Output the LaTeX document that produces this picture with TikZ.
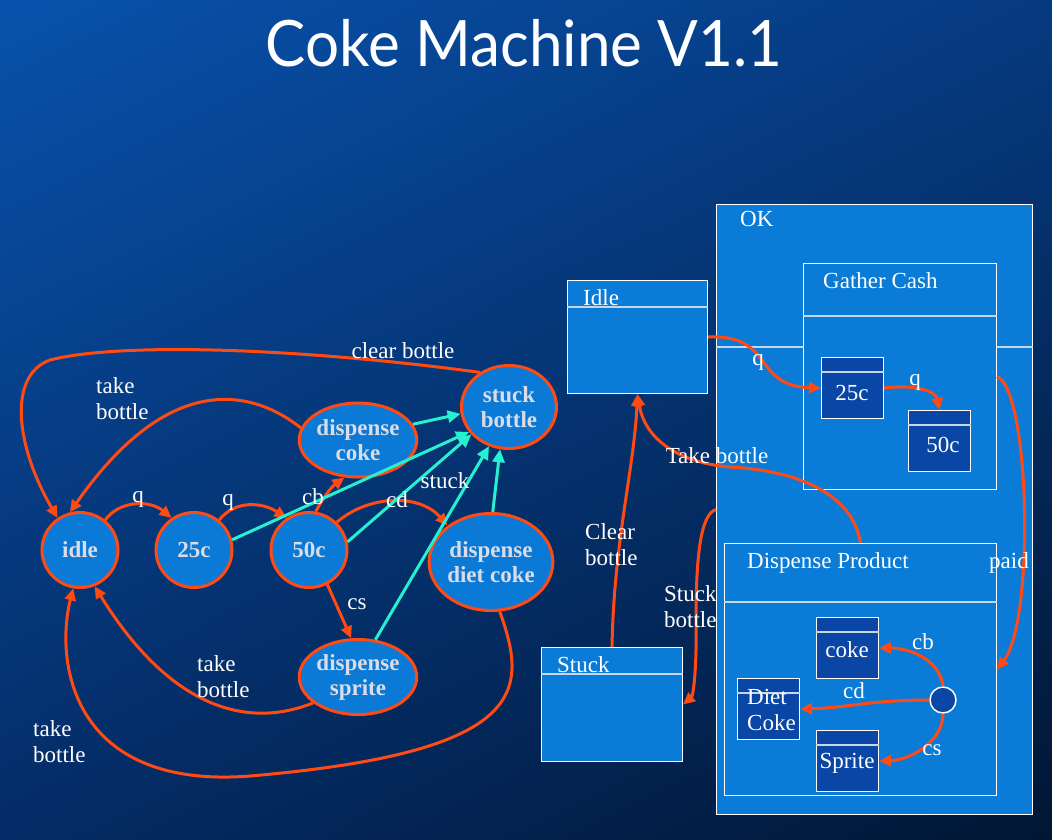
\documentclass[tikz,border=0pt]{standalone}
\usepackage{fontspec}
\setmainfont{Liberation Serif}
\newfontfamily\titlefont{Lato}
\usetikzlibrary{shapes.geometric,arrows.meta,shadings}
\definecolor{org}{HTML}{FF4A14}
\definecolor{cyn}{HTML}{25F0D0}
\definecolor{nodeblue}{HTML}{0A7AD6}
\definecolor{nodetext}{HTML}{DCDCE6}
\definecolor{boxblue}{HTML}{0A7CD8}
\definecolor{darkbox}{HTML}{0A46A6}
\definecolor{hdr}{HTML}{C8D6EA}
\definecolor{bgA}{HTML}{0852AC}
\definecolor{bgB}{HTML}{063A80}
\definecolor{bgC}{HTML}{042C66}
\definecolor{bgD}{HTML}{011634}
\tikzset{
  state/.style={ellipse, draw=org, line width=3pt, fill=nodeblue, text=nodetext,
    font=\fontsize{23}{25}\selectfont\bfseries, align=center, inner sep=0pt},
  oe/.style={draw=org, line width=3pt, -{Triangle[length=12pt,width=11pt]}},
  ce/.style={draw=cyn, line width=3pt, -{Triangle[length=13pt,width=12pt]}},
  lab/.style={text=white, font=\fontsize{23}{26}\selectfont, inner sep=0pt},
  box/.style={draw=white, line width=1pt, fill=boxblue, anchor=north west, inner sep=0pt},
  sub/.style={draw=white, line width=1pt, fill=darkbox, anchor=north west, inner sep=0pt,
    minimum width=62pt, minimum height=61pt},
  hline/.style={draw=hdr, line width=1.2pt}
}
\begin{document}
\begin{tikzpicture}[x=1pt,y=-1pt]
\shade[upper left=bgA, upper right=bgB, lower left=bgC, lower right=bgD] (0,0) rectangle (1052,839);
\useasboundingbox (0,0) rectangle (1052,839);

% title
\node[font=\titlefont\fontsize{64}{70}\selectfont, text=white, anchor=base, inner sep=0pt, xscale=0.94] (title) at (524,66) {Coke Machine V1.1};

% ---------- left state diagram ----------
\node[state, minimum width=76pt, minimum height=75pt] (idle) at (80,550) {idle};
\node[state, minimum width=76pt, minimum height=75pt] (c25) at (194,550) {25c};
\node[state, minimum width=76pt, minimum height=75pt] (c50) at (309,550) {50c};
\node[state, minimum width=107pt, minimum height=74pt] (dcoke) at (358,440) {dispense\\coke};
\node[state, minimum width=95pt, minimum height=83pt] (stuckb) at (509,407) {stuck\\bottle};
\node[state, minimum width=108pt, minimum height=97pt] (ddiet) at (491,562) {dispense\\diet coke};
\node[state, minimum width=107pt, minimum height=75pt] (dsprite) at (358,677) {dispense\\sprite};

% orange transitions
\draw[oe] (idle.50) .. controls (120,500) and (150,500) .. (c25.125);
\draw[oe] (c25.50) .. controls (235,500) and (262,502) .. (c50.125);
\draw[oe] (c50.80) .. controls (322,500) and (330,488) .. (dcoke.-110);
\draw[oe] (c50.45) .. controls (370,494) and (420,494) .. (ddiet.140);
\draw[oe] (c50.-62) -- (dsprite.100);
\draw[oe] (dcoke.168) .. controls (250,388) and (168,372) .. (idle.105);
\draw[oe] (dsprite.-150) .. controls (240,732) and (165,700) .. (idle.-68);
\draw[oe] (ddiet.-80) .. controls (528,690) and (530,752) .. (250,776)
  .. controls (70,790) and (55,660) .. (idle.-100);
\draw[oe] (stuckb.130) .. controls (300,348) and (120,342) .. (50,360)
  .. controls (8,375) and (15,445) .. (idle.125);

% cyan transitions
\draw[ce] (dcoke.16) -- (stuckb.188);
\draw[ce] (c25.15) -- (stuckb.212);
\draw[ce] (c50.12) -- (stuckb.216);
\draw[ce] (dsprite.65) -- (stuckb.243);
\draw[ce] (ddiet.88) -- (stuckb.258);

% labels left
\node[lab, anchor=base] (lq1) at (138,502) {q};
\node[lab, anchor=base] (lq2) at (228,505) {q};
\node[lab, anchor=base] (lcb) at (313,504) {cb};
\node[lab, anchor=base] (lcd) at (397,507) {cd};
\node[lab, anchor=base] (lstuck) at (445,488) {stuck};
\node[lab, anchor=base] (lcs) at (357,609) {cs};
\node[lab, anchor=base] (lclear) at (403,358) {clear bottle};
\node[lab, anchor=base west, align=left] (ltb1) at (96,419) {take\\bottle};
\node[lab, anchor=base west, align=left] (ltb2) at (197,697) {take\\bottle};
\node[lab, anchor=base west, align=left] (ltb3) at (33,762) {take\\bottle};

% ---------- right statechart ----------
\node[box, minimum width=316pt, minimum height=610pt] (okbox) at (716,204) {};
\draw[hline] ([yshift=-143pt]okbox.north west) -- ([yshift=-143pt]okbox.north east);
\node[box, minimum width=193pt, minimum height=226pt] (gather) at (803,263) {};
\draw[hline] ([yshift=-53pt]gather.north west) -- ([yshift=-53pt]gather.north east);
\node[sub] (s25) at (821,357) {};
\draw[hline] ([yshift=-15pt]s25.north west) -- ([yshift=-15pt]s25.north east);
\node[sub] (s50) at (908,410) {};
\draw[hline] ([yshift=-15pt]s50.north west) -- ([yshift=-15pt]s50.north east);

\node[box, minimum width=272pt, minimum height=252pt] (disp) at (724,543) {};
\draw[hline] ([yshift=-59pt]disp.north west) -- ([yshift=-59pt]disp.north east);
\node[sub] (scoke) at (816,617) {};
\draw[hline] ([yshift=-15pt]scoke.north west) -- ([yshift=-15pt]scoke.north east);
\node[sub] (sdiet) at (737,678) {};
\draw[hline] ([yshift=-15pt]sdiet.north west) -- ([yshift=-15pt]sdiet.north east);
\node[sub] (ssprite) at (816,730) {};
\draw[hline] ([yshift=-15pt]ssprite.north west) -- ([yshift=-15pt]ssprite.north east);
\node[circle, draw=white, line width=1.5pt, fill=darkbox, minimum size=26pt, inner sep=0pt] (choice) at (943,700) {};

\node[box, minimum width=140pt, minimum height=113pt] (idlebox) at (567,280) {};
\draw[hline] ([yshift=-27pt]idlebox.north west) -- ([yshift=-27pt]idlebox.north east);
\node[box, minimum width=141pt, minimum height=114pt] (stuckbox) at (541,647) {};
\draw[hline] ([yshift=-27pt]stuckbox.north west) -- ([yshift=-27pt]stuckbox.north east);

% box titles
\node[lab, anchor=base west] (tok) at (740,226) {OK};
\node[lab, anchor=base west] (tgather) at (823,288) {Gather Cash};
\node[lab, anchor=base] (t25) at (852,400) {25c};
\node[lab, anchor=base] (t50) at (943,452) {50c};
\node[lab, anchor=base west] (tdisp) at (747,568) {Dispense Product};
\node[lab, anchor=base] (tcoke) at (847,657) {coke};
\node[lab, anchor=base west, align=left] (tdiet) at (747,730) {Diet\\Coke};
\node[lab, anchor=base] (tsprite) at (847,768) {Sprite};
\node[lab, anchor=base west] (tidle) at (583,305) {Idle};
\node[lab, anchor=base west] (tstuck) at (557,672) {Stuck};

% right transitions
\draw[oe] (idlebox.east) .. controls (775,334) and (752,386) .. (s25.west);
\draw[oe] (s25.east) .. controls (918,384) and (936,392) .. (s50.north);
\draw[oe] (gather.east) .. controls (1030,390) and (1035,620) .. (disp.east);
\draw[oe] (disp.north) .. controls (852,490) and (790,470) .. (730,467)
  .. controls (680,463) and (645,440) .. (idlebox.south);
\draw[oe] (stuckbox.north) .. controls (614,540) and (634,470) .. (idlebox.south);
\draw[oe] (okbox.west) .. controls (700,514) and (696,560) .. (696,620)
  .. controls (697,670) and (693,696) .. (stuckbox.east);
\draw[oe] (choice.north) .. controls (940,660) and (910,648) .. (scoke.east);
\draw[oe] (choice.west) .. controls (870,700) and (845,708) .. (sdiet.east);
\draw[oe] (choice.south) .. controls (943,742) and (910,760) .. (ssprite.east);

% right labels
\node[lab, anchor=base] (rq1) at (758,365) {q};
\node[lab, anchor=base] (rq2) at (915,385) {q};
\node[lab, anchor=base] (rtake) at (717,463) {Take bottle};
\node[lab, anchor=base west, align=left] (rclear) at (585,565) {Clear\\bottle};
\node[lab, anchor=base west, align=left] (rstuck) at (664,627) {Stuck\\bottle};
\node[lab, anchor=base west] (rpaid) at (989,568) {paid};
\node[lab, anchor=base] (rcb) at (923,649) {cb};
\node[lab, anchor=base] (rcd) at (854,698) {cd};
\node[lab, anchor=base] (rcs) at (932,755) {cs};
\end{tikzpicture}
\end{document}
